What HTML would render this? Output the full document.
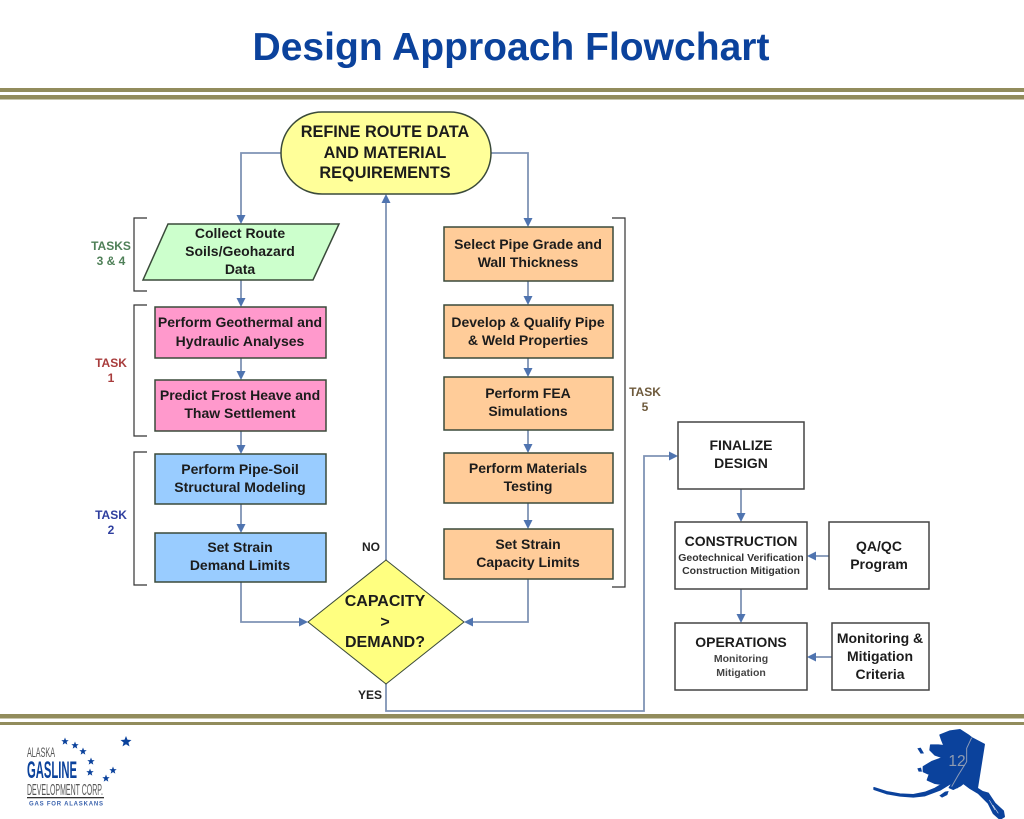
<!DOCTYPE html>
<html><head><meta charset="utf-8"><style>
html,body{margin:0;padding:0;background:#fff;width:1024px;height:819px;overflow:hidden}
svg{display:block}
text{font-family:"Liberation Sans",Arial,sans-serif;font-weight:bold;text-anchor:middle;fill:#1c1c1c}
.b{stroke:#3a4a3a;stroke-width:1.5}
.k{fill:#fff;stroke:#444;stroke-width:1.5}
.c{fill:none;stroke:#7f93b5;stroke-width:1.8}
.a{fill:#4f74b0}
.t{font-size:14px}
.br{fill:none;stroke:#333;stroke-width:1.2}
</style></head><body>
<svg width="1024" height="819" viewBox="0 0 1024 819" xmlns="http://www.w3.org/2000/svg">
<rect width="1024" height="819" fill="#fff"/>
<text x="511" y="60" font-size="39" style="fill:#0b429c" textLength="517" lengthAdjust="spacingAndGlyphs">Design Approach Flowchart</text>
<rect x="0" y="88" width="1024" height="4" fill="#928c5c"/>
<rect x="0" y="95" width="1024" height="4.500" fill="#928c5c"/>
<rect x="0" y="714" width="1024" height="4.500" fill="#928c5c"/>
<rect x="0" y="722" width="1024" height="3" fill="#928c5c"/>

<!-- connectors -->
<path class="c" d="M281 153H241V218M491 153H528V221M241 280V301M241 358V374M241 431V448M241 504V527M241 582V622H302M528 281V299M528 358V371M528 430V447M528 503V523M528 579V622H470M386 560V200M386 684V711H644V456H672M741 489V516M741 589V617M829 556H813M832 657H813"/>
<g class="a">
<path d="M236.500 215H245.500L241 224ZM236.500 298H245.500L241 307ZM236.500 371H245.500L241 380ZM236.500 445H245.500L241 454ZM236.500 524H245.500L241 533Z"/>
<path d="M523.500 218H532.500L528 227ZM523.500 296H532.500L528 305ZM523.500 368H532.500L528 377ZM523.500 444H532.500L528 453ZM523.500 520H532.500L528 529Z"/>
<path d="M299 617.500V626.500L308 622ZM473 617.500V626.500L464 622ZM381.500 203H390.500L386 194ZM669 451.500V460.500L678 456Z"/>
<path d="M736.500 513H745.500L741 522ZM736.500 614H745.500L741 623ZM816 551.500V560.500L807 556ZM816 652.500V661.500L807 657Z"/>
</g>

<!-- brackets -->
<path class="br" d="M147 218H134V291H147M147 305H134V436H147M147 452H134V585H147M612 218H625V587H612"/>

<!-- shapes -->
<rect class="b" x="281" y="112" width="210" height="82" rx="41" fill="#ffff99"/>
<path class="b" d="M168 224H339L313 280H143Z" fill="#ccffcc"/>
<g class="b">
<rect x="155" y="307" width="171" height="51" fill="#ff99cc"/>
<rect x="155" y="380" width="171" height="51" fill="#ff99cc"/>
<rect x="155" y="454" width="171" height="50" fill="#99ccff"/>
<rect x="155" y="533" width="171" height="49" fill="#99ccff"/>
<rect x="444" y="227" width="169" height="54" fill="#ffcc99"/>
<rect x="444" y="305" width="169" height="53" fill="#ffcc99"/>
<rect x="444" y="377" width="169" height="53" fill="#ffcc99"/>
<rect x="444" y="453" width="169" height="50" fill="#ffcc99"/>
<rect x="444" y="529" width="169" height="50" fill="#ffcc99"/>
</g>
<path class="b" d="M386 560L464 622L386 684L308 622Z" fill="#ffff80" style="stroke-width:1"/>
<rect class="k" x="678" y="422" width="126" height="67"/>
<rect class="k" x="675" y="522" width="132" height="67"/>
<rect class="k" x="829" y="522" width="100" height="67"/>
<rect class="k" x="675" y="623" width="132" height="67"/>
<rect class="k" x="832" y="623" width="97" height="67"/>

<!-- labels -->
<g font-size="16.300">
<text x="385" y="137">REFINE ROUTE DATA</text>
<text x="385" y="158">AND MATERIAL</text>
<text x="385" y="178">REQUIREMENTS</text>
</g>
<g class="t">
<text x="240" y="238">Collect Route</text>
<text x="240" y="256">Soils/Geohazard</text>
<text x="240" y="274">Data</text>
<text x="240" y="327">Perform Geothermal and</text>
<text x="240" y="346">Hydraulic Analyses</text>
<text x="240" y="400">Predict Frost Heave and</text>
<text x="240" y="418">Thaw Settlement</text>
<text x="240" y="474">Perform Pipe-Soil</text>
<text x="240" y="492">Structural Modeling</text>
<text x="240" y="552">Set Strain</text>
<text x="240" y="570">Demand Limits</text>
<text x="528" y="249">Select Pipe Grade and</text>
<text x="528" y="267">Wall Thickness</text>
<text x="528" y="327">Develop &amp; Qualify Pipe</text>
<text x="528" y="345">&amp; Weld Properties</text>
<text x="528" y="398">Perform FEA</text>
<text x="528" y="416">Simulations</text>
<text x="528" y="473">Perform Materials</text>
<text x="528" y="491">Testing</text>
<text x="528" y="549">Set Strain</text>
<text x="528" y="567">Capacity Limits</text>
<text x="741" y="450">FINALIZE</text>
<text x="741" y="468">DESIGN</text>
<text x="879" y="551">QA/QC</text>
<text x="879" y="569">Program</text>
<text x="880" y="643">Monitoring &amp;</text>
<text x="880" y="661">Mitigation</text>
<text x="880" y="679">Criteria</text>
</g>
<g font-size="16">
<text x="385" y="606">CAPACITY</text>
<text x="385" y="627">&gt;</text>
<text x="385" y="647">DEMAND?</text>
</g>
<text x="741" y="546" font-size="14">CONSTRUCTION</text>
<text x="741" y="647" font-size="14">OPERATIONS</text>
<g style="font-size:10.500px">
<text x="741" y="561" style="fill:#333">Geotechnical Verification</text>
<text x="741" y="574" style="fill:#333">Construction Mitigation</text>
<text x="741" y="662" style="fill:#444">Monitoring</text>
<text x="741" y="676" style="fill:#444">Mitigation</text>
</g>
<g font-size="12">
<text x="371" y="551" style="fill:#222">NO</text>
<text x="370" y="699" style="fill:#222">YES</text>
<text x="111" y="250" style="fill:#4f8058">TASKS</text>
<text x="111" y="265" style="fill:#4f8058">3 &amp; 4</text>
<text x="111" y="367" style="fill:#a83c3c">TASK</text>
<text x="111" y="382" style="fill:#a83c3c">1</text>
<text x="111" y="519" style="fill:#2f3f9f">TASK</text>
<text x="111" y="534" style="fill:#2f3f9f">2</text>
<text x="645" y="396" style="fill:#6e5a3c">TASK</text>
<text x="645" y="411" style="fill:#6e5a3c">5</text>
</g>

<!-- logo -->
<g>
<text x="41" y="757" font-size="14" style="font-weight:normal;fill:#555" textLength="28" lengthAdjust="spacingAndGlyphs">ALASKA</text>
<text x="52" y="778" font-size="24" style="fill:#0b429c" textLength="50" lengthAdjust="spacingAndGlyphs">GASLINE</text>
<text x="65" y="795" font-size="16" style="font-weight:normal;fill:#555" textLength="76" lengthAdjust="spacingAndGlyphs">DEVELOPMENT CORP.</text>
<rect x="27" y="797" width="77" height="1.300" fill="#333"/>
<text x="66" y="805.500" font-size="6" style="fill:#3a62ad" textLength="74" lengthAdjust="spacing">GAS FOR ALASKANS</text>
<g fill="#0b429c">
<path d="M65 737.500l1 2.600 2.700.1-2.100 1.700.7 2.700-2.300-1.500-2.300 1.500.7-2.700-2.100-1.700 2.700-.1z"/>
<path d="M75 741.500l1 2.600 2.700.1-2.100 1.700.7 2.700-2.300-1.500-2.300 1.500.7-2.700-2.100-1.700 2.700-.1z"/>
<path d="M83 747.500l1 2.600 2.700.1-2.100 1.700.7 2.700-2.300-1.500-2.300 1.500.7-2.700-2.100-1.700 2.700-.1z"/>
<path d="M91 757.500l1 2.600 2.700.1-2.100 1.700.7 2.700-2.300-1.500-2.300 1.500.7-2.700-2.100-1.700 2.700-.1z"/>
<path d="M90 768.500l1 2.600 2.700.1-2.100 1.700.7 2.700-2.300-1.500-2.300 1.500.7-2.700-2.100-1.700 2.700-.1z"/>
<path d="M113 766.500l1 2.600 2.700.1-2.100 1.700.7 2.700-2.300-1.500-2.300 1.500.7-2.700-2.100-1.700 2.700-.1z"/>
<path d="M106 774.500l1 2.600 2.700.1-2.100 1.700.7 2.700-2.300-1.500-2.300 1.500.7-2.700-2.100-1.700 2.700-.1z"/>
<path d="M126 736l1.500 3.800 4 .2-3.100 2.500 1.100 3.900-3.500-2.200-3.500 2.200 1.100-3.900-3.100-2.500 4-.2z"/>
</g>
</g>

<!-- Alaska map -->
<g transform="translate(870 725) scale(.3333)" fill="#0b429c">
<path stroke="#0b429c" stroke-width="4" stroke-linejoin="round" d="M210 30L240 18L270 14L295 30L305 38L343 58L322 190L338 200L355 205L375 235L400 258L403 275L390 283L370 265L355 235L325 205L300 190L280 175L272 182L250 193L238 188L248 172L235 180L210 195L165 212L130 216L90 213L50 206L12 193L12 188L50 200L90 207L130 209L165 202L195 190L215 178L195 175L172 165L178 148L160 140L160 125L185 110L218 98L195 90L180 75L182 60L205 60L222 62L215 45Z"/>
<path d="M142 70L152 68L162 85L152 86Z"/>
<path d="M142 130L153 128L156 140L146 140Z"/>
<path d="M208 212L225 200L236 198L232 210L216 218Z"/>
<path d="M242 188L255 172L275 178L262 190Z"/>
<path d="M305 38L290 70L290 110L265 150L245 185" fill="none" stroke="#8e9cb8" stroke-width="3"/>
<path d="M358 225L375 255M368 240L385 265" fill="none" stroke="#cfd8ea" stroke-width="2"/>
</g>
<text x="957" y="766" font-size="15.500" style="font-weight:normal;fill:#8f9bb0">12</text>
</svg>
</body></html>
